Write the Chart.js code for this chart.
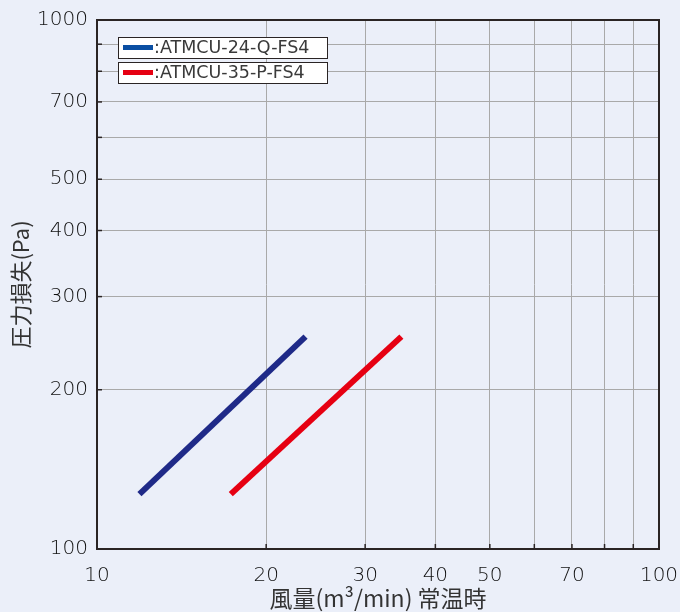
<!DOCTYPE html>
<html>
<head>
<meta charset="utf-8">
<script src="https://cdn.jsdelivr.net/npm/chart.js@4/dist/chart.umd.min.js"></script>
<style>
  html, body { margin: 0; padding: 0; background: #ebeff9; }
  #wrap { width: 680px; height: 612px; }
</style>
</head>
<body>
<div id="wrap"><canvas id="lossChart"></canvas></div>
<script>
// data (log-log)
const seriesNames = [":ATMCU-24-Q-FS4", ":ATMCU-35-P-FS4"];
const flow24 = [11.9, 23.5];
const loss24 = [127, 252];
const flow35 = [17.3, 34.8];
const loss35 = [127, 252];

const xTicks = [10, 20, 30, 40, 50, 60, 70, 80, 90, 100];
const xLabels = [10, 20, 30, 40, 50, 70, 100];
const yTicks = [100, 200, 300, 400, 500, 600, 700, 800, 900, 1000];
const yLabels = [100, 200, 300, 400, 500, 700, 1000];

const lineColors = ["#1f2a88", "#e60012"];
const legendColors = ["#0a4ea2", "#e60012"];

const latin = "'DejaVu Sans', sans-serif";
const numFont = { family: latin, size: 20, weight: "200" };
const jpFont = "'Noto Sans CJK JP', sans-serif";

// frame, inner tick marks and the boxed legend
const framePlugin = {
  id: "frame",
  afterDraw(chart) {
    const { ctx, chartArea: a, scales } = chart;
    ctx.save();
    ctx.strokeStyle = "#2a2424";
    ctx.lineWidth = 1.5;
    scales.y.ticks.forEach(t => {
      const y = scales.y.getPixelForValue(t.value);
      ctx.beginPath(); ctx.moveTo(a.left, y); ctx.lineTo(a.left + 5, y); ctx.stroke();
    });
    scales.x.ticks.forEach(t => {
      const x = scales.x.getPixelForValue(t.value);
      ctx.beginPath(); ctx.moveTo(x, a.bottom); ctx.lineTo(x, a.bottom - 5); ctx.stroke();
    });
    ctx.lineWidth = 2;
    ctx.strokeRect(a.left, a.top, a.right - a.left, a.bottom - a.top);

    ctx.font = "17.5px " + latin;
    ctx.textBaseline = "middle";
    seriesNames.forEach((name, i) => {
      const bx = a.left + 21, by = a.top + 17 + i * 25;
      ctx.fillStyle = "#ffffff";
      ctx.fillRect(bx, by, 209, 21);
      ctx.lineWidth = 1;
      ctx.strokeStyle = "#2a2424";
      ctx.strokeRect(bx + 0.5, by + 0.5, 209, 21);
      ctx.fillStyle = legendColors[i];
      ctx.fillRect(bx + 5, by + 8, 30, 5);
      ctx.fillStyle = "#3a3a3a";
      ctx.fillText(name, bx + 36, by + 11.5);
    });
    ctx.restore();
  }
};

new Chart(document.getElementById("lossChart"), {
  type: "line",
  data: {
    datasets: [
      {
        label: seriesNames[0],
        data: flow24.map((x, i) => ({ x, y: loss24[i] })),
        borderColor: lineColors[0],
        borderWidth: 6,
        pointRadius: 0
      },
      {
        label: seriesNames[1],
        data: flow35.map((x, i) => ({ x, y: loss35[i] })),
        borderColor: lineColors[1],
        borderWidth: 6,
        pointRadius: 0
      }
    ]
  },
  options: {
    responsive: true,
    maintainAspectRatio: false,
    animation: false,
    layout: { padding: { top: 20, right: 21, left: 0, bottom: 0 } },
    plugins: {
      legend: { display: false },
      tooltip: { enabled: false }
    },
    scales: {
      x: {
        type: "logarithmic",
        min: 10, max: 100,
        afterBuildTicks: s => { s.ticks = xTicks.map(v => ({ value: v })); },
        afterFit: s => { s.height = 63; s.paddingLeft = 0; s.paddingRight = 0; },
        ticks: {
          autoSkip: false, maxRotation: 0, padding: 15,
          color: "#111111", font: numFont,
          callback: v => xLabels.includes(v) ? String(v) : ""
        },
        grid: { color: "#a9a9a9", lineWidth: 1, drawTicks: false, tickLength: 0 },
        border: { display: false },
        title: {
          display: true, text: "風量(m³/min) 常温時",
          color: "#333333", font: { family: jpFont, size: 23 }, padding: { top: 0, bottom: 0 }
        }
      },
      y: {
        type: "logarithmic",
        min: 100, max: 1000,
        afterBuildTicks: s => { s.ticks = yTicks.map(v => ({ value: v })); },
        afterFit: s => { s.width = 97; s.paddingTop = 0; s.paddingBottom = 0; },
        ticks: {
          autoSkip: false, padding: 9,
          color: "#111111", font: numFont,
          callback: v => yLabels.includes(v) ? String(v) : ""
        },
        grid: { color: "#a9a9a9", lineWidth: 1, drawTicks: false, tickLength: 0 },
        border: { display: false },
        title: {
          display: true, text: "圧力損失(Pa)",
          color: "#333333", font: { family: jpFont, size: 22 }, padding: { top: 7, bottom: 0 }
        }
      }
    }
  },
  plugins: [framePlugin]
});
</script>
</body>
</html>
